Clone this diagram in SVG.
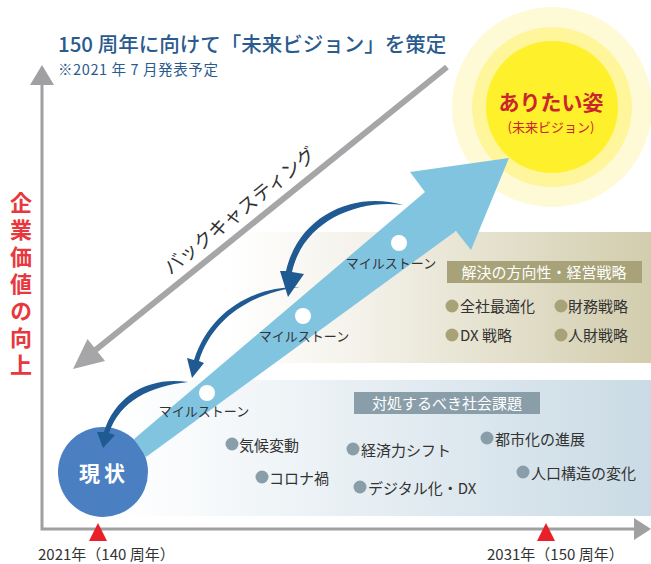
<svg xmlns="http://www.w3.org/2000/svg" width="651" height="564" viewBox="0 0 651 564">
<defs>
<linearGradient id="g1" x1="0" y1="0" x2="1" y2="0">
<stop offset="0" stop-color="#ffffff"/>
<stop offset="0.3" stop-color="#f4f2ea"/>
<stop offset="1" stop-color="#d2cdad"/>
</linearGradient>
<linearGradient id="g2" x1="0" y1="0" x2="1" y2="0">
<stop offset="0" stop-color="#ffffff"/>
<stop offset="1" stop-color="#cadbe5"/>
</linearGradient>
<style>
text{font-family:"Noto Sans CJK JP","Noto Sans",sans-serif;}
.ms{font-size:13px;fill:#333;text-anchor:middle;}
.it{font-size:15px;fill:#333;}
.tan{fill:#a8a278;}
.gb{fill:#8a9eaa;}
.arc{fill:#1f5a92;}
.axis{stroke:#a0a0a3;stroke-width:3;fill:none;}
</style>
</defs>
<rect width="651" height="564" fill="#ffffff"/>
<g id="panel-strategy">
<rect x="230" y="232" width="421" height="131" fill="url(#g1)"/>
<rect x="447" y="261" width="195" height="22" class="tan"/>
<text x="544" y="278" font-size="15" fill="#ffffff" text-anchor="middle">解決の方向性・経営戦略</text>
<circle cx="452" cy="306" r="6.5" class="tan"/>
<text x="460" y="312" class="it">全社最適化</text>
<circle cx="561" cy="306" r="6.5" class="tan"/>
<text x="568" y="312" class="it">財務戦略</text>
<circle cx="452" cy="335" r="6.5" class="tan"/>
<text x="460" y="341" class="it">DX 戦略</text>
<circle cx="561" cy="335" r="6.5" class="tan"/>
<text x="568" y="341" class="it">人財戦略</text>
</g>
<g id="panel-issues">
<rect x="120" y="380" width="531" height="136" fill="url(#g2)"/>
<rect x="354" y="392" width="186" height="22" class="gb"/>
<text x="447" y="409" font-size="15" fill="#ffffff" text-anchor="middle">対処するべき社会課題</text>
<circle cx="232" cy="444" r="6.5" class="gb"/>
<text x="239" y="451" class="it">気候変動</text>
<circle cx="353" cy="449" r="6.5" class="gb"/>
<text x="361" y="456" class="it">経済力シフト</text>
<circle cx="487" cy="438" r="6.5" class="gb"/>
<text x="495" y="445" class="it">都市化の進展</text>
<circle cx="262" cy="477" r="6.5" class="gb"/>
<text x="269" y="484" class="it">コロナ禍</text>
<circle cx="360" cy="487" r="6.5" class="gb"/>
<text x="368" y="494" class="it">デジタル化・DX</text>
<circle cx="523" cy="472" r="6.5" class="gb"/>
<text x="531" y="479" class="it">人口構造の変化</text>
</g>
<g id="axes">
<polyline class="axis" points="42,82 42,529 636,529"/>
<polygon points="42,65 30,85 54,85" fill="#a0a0a3"/>
<polygon points="651,529 634,518 634,540" fill="#a0a0a3"/>
<text x="21" y="192" writing-mode="vertical-rl" font-size="22" font-weight="bold" letter-spacing="5" fill="#e8383d">企業価値の向上</text>
<polygon points="98,523 89,541 107,541" fill="#e8202a"/>
<polygon points="546,523 537,541 555,541" fill="#e8202a"/>
<text x="38" y="560" font-size="15" fill="#333">2021年（140 周年）</text>
<text x="487" y="560" font-size="15" fill="#333">2031年（150 周年）</text>
</g>
<g id="title">
<text x="58" y="52" font-size="20.5" font-weight="500" fill="#2a5b8e">150 周年に向けて「未来ビジョン」を策定</text>
<text x="58" y="75" font-size="14.5" letter-spacing="0.6" fill="#2a5b8e">※2021 年 7 月発表予定</text>
</g>
<g id="vision">
<circle cx="552" cy="107" r="100" fill="#fffad6"/>
<circle cx="552" cy="107" r="80" fill="#fff59a"/>
<circle cx="552" cy="107" r="66" fill="#fff02c"/>
<text x="551" y="110" font-size="21" font-weight="bold" fill="#c8252d" text-anchor="middle">ありたい姿</text>
<text x="551" y="132" font-size="13" fill="#c8252d" text-anchor="middle">(未来ビジョン)</text>
</g>
<g id="current">
<circle cx="103" cy="472" r="45" fill="#4a80c2"/>
<text x="104" y="481" font-size="21" font-weight="bold" fill="#ffffff" text-anchor="middle" letter-spacing="4">現状</text>
</g>
<g id="connectors">
<polygon points="134,439 425,192 410,172 509,158 471,250 456,231 146,457" fill="#80c4e0"/>
<line x1="447" y1="67" x2="93" y2="352" stroke="#a6a6a8" stroke-width="6"/>
<polygon points="73,369 87.5,339 105,361" fill="#a6a6a8"/>
<text transform="translate(244,216) rotate(-39)" font-size="19" fill="#333" text-anchor="middle">バックキャスティング</text>
<path class="arc" d="M403,205 C356,191 299,214 286,271 L280,271 L288,297 L304,274 L292,272 C303,222 356,199 403,205 Z"/>
<path class="arc" d="M300,287 C255,286 210,310 194,360 L187,358 L192,378 L204,363 L199,361 C213,316 255,292 300,287 Z"/>
<path class="arc" d="M188,382 C150,376 115,395 104,432 L97,432 L103,448 L115,435 L109,433 C120,401 150,386 188,382 Z"/>
</g>
<g id="milestones">
<circle cx="207" cy="393" r="8" fill="#ffffff"/>
<circle cx="303" cy="316" r="8" fill="#ffffff"/>
<circle cx="399" cy="243" r="8" fill="#ffffff"/>
<text x="204" y="416" class="ms">マイルストーン</text>
<text x="304" y="341" class="ms">マイルストーン</text>
<text x="391" y="268" class="ms">マイルストーン</text>
</g>
</svg>
